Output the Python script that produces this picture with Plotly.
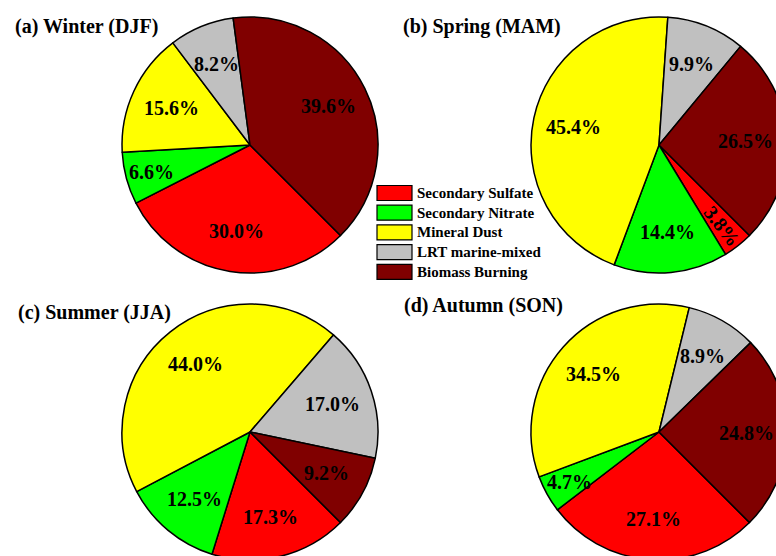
import math
import plotly.graph_objects as go

# Source categories and their fill colours
sources = ["Secondary Sulfate", "Secondary Nitrate", "Mineral Dust",
           "LRT marine-mixed", "Biomass Burning"]
colors = ["#FF0000", "#00FF00", "#FFFF00", "#C0C0C0", "#800000"]

# Seasonal contributions (%)
winter = [30.0, 6.6, 15.6, 8.2, 39.6]
spring = [3.8, 14.4, 45.4, 9.9, 26.5]
summer = [17.3, 12.5, 44.0, 17.0, 9.2]
autumn = [27.1, 4.7, 34.5, 8.9, 24.8]

titles = ["(a) Winter (DJF)", "(b) Spring (MAM)",
          "(c) Summer (JJA)", "(d) Autumn (SON)"]
seasons = [winter, spring, summer, autumn]

# Canvas is a bit larger than the viewport so the outer pies bleed off the edges
W, H = 790, 565
R = 128                      # pie radius in px
START = 135                  # first slice starts at 135 deg clockwise from 12 o'clock
FONT = "Liberation Serif, Times New Roman, serif"

# pixel layout of each panel: pie centre, title anchor
centers = [(250, 145), (659, 145), (250, 432), (659, 432)]
title_pos = [(13, 27), (401, 27), (16, 312), (402, 305)]


def px(x):
    return x / W


def py(y):
    return 1 - y / H


fig = go.Figure()
annotations = []

for vals, (cx, cy), title, (tx, ty) in zip(seasons, centers, titles, title_pos):
    fig.add_trace(go.Pie(
        labels=sources,
        values=vals,
        sort=False,
        direction="clockwise",
        rotation=START,
        marker=dict(colors=colors, line=dict(color="black", width=1.5)),
        textinfo="none",
        hoverinfo="label+percent",
        showlegend=False,
        domain=dict(x=[px(cx - R), px(cx + R)], y=[py(cy + R), py(cy - R)]),
    ))

    # percentage labels placed along each slice's bisector
    total = sum(vals)
    cum = 0.0
    for v in vals:
        mid = START + (cum + v / 2) / total * 360
        cum += v
        k = 0.8 if v < 8 else 0.68
        a = math.radians(mid)
        lx = cx + k * R * math.sin(a)
        ly = cy - k * R * math.cos(a)
        angle = 0
        if v < 4:  # very thin slice: run the label along the radius
            angle = (mid - 90) % 360
        annotations.append(dict(
            x=px(lx), y=py(ly), xref="paper", yref="paper",
            text=f"<b>{v:.1f}%</b>", showarrow=False, textangle=angle,
            font=dict(family=FONT, size=20, color="black"),
            xanchor="center", yanchor="middle",
        ))

    annotations.append(dict(
        x=px(tx), y=py(ty), xref="paper", yref="paper",
        text=f"<b>{title}</b>", showarrow=False,
        font=dict(family=FONT, size=20, color="black"),
        xanchor="left", yanchor="middle",
    ))

# Shared legend between the panels
shapes = []
box_x0, box_x1 = 377, 412
row0, row_step, box_h = 193, 19.7, 15
for i, (name, col) in enumerate(zip(sources, colors)):
    yc = row0 + i * row_step
    shapes.append(dict(
        type="rect", xref="paper", yref="paper",
        x0=px(box_x0), x1=px(box_x1), y0=py(yc + box_h / 2), y1=py(yc - box_h / 2),
        fillcolor=col, line=dict(color="black", width=1.2),
    ))
    annotations.append(dict(
        x=px(415), y=py(yc), xref="paper", yref="paper",
        text=f"<b>{name}</b>", showarrow=False,
        font=dict(family=FONT, size=15, color="black"),
        xanchor="left", yanchor="middle",
    ))

fig.update_layout(
    width=W, height=H, autosize=False,
    margin=dict(l=0, r=0, t=0, b=0),
    paper_bgcolor="white", plot_bgcolor="white",
    annotations=annotations, shapes=shapes,
)

fig.write_html(
    "out.html",
    post_script=(
        "document.body.style.margin='0';"
        "document.body.style.overflow='hidden';"
        "document.documentElement.style.overflow='hidden';"
    ),
)
